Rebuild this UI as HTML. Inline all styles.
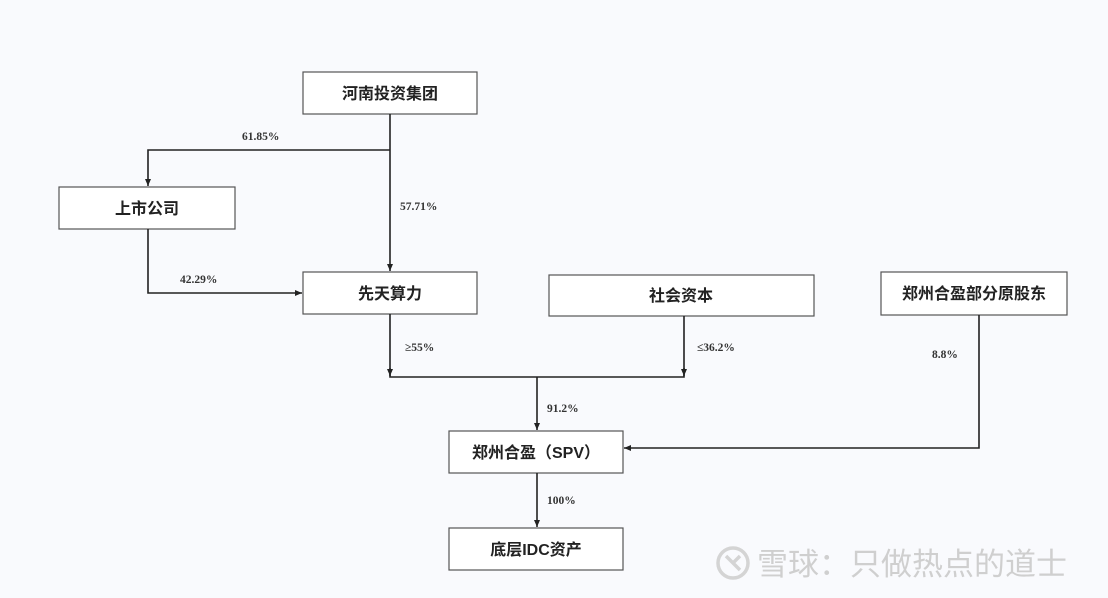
<!DOCTYPE html>
<html><head><meta charset="utf-8"><style>
body{margin:0;width:1108px;height:598px;background:#f9fafd;overflow:hidden;font-family:"Liberation Sans","Noto Sans CJK SC",sans-serif;}
svg{position:absolute;left:0;top:0}
.t{font-family:"Liberation Sans","Noto Sans CJK SC",sans-serif;font-weight:bold;font-size:16px;fill:#222}
.p{font-family:"Liberation Serif",serif;font-weight:bold;font-size:11.5px;fill:#333}
</style></head><body>
<svg width="1108" height="598">
<defs><marker id="a" markerWidth="8" markerHeight="8" refX="7" refY="4" orient="auto" markerUnits="userSpaceOnUse"><path d="M0,1 L7,4 L0,7z" fill="#222"/></marker></defs>
<g fill="#fff" stroke="#555" stroke-width="1.2">
<rect x="303" y="72" width="174" height="42"/>
<rect x="59" y="187" width="176" height="42"/>
<rect x="303" y="272" width="174" height="42"/>
<rect x="549" y="275" width="265" height="41"/>
<rect x="881" y="272" width="186" height="43"/>
<rect x="449" y="431" width="174" height="42"/>
<rect x="449" y="528" width="174" height="42"/>
</g>
<g stroke="#222" stroke-width="1.6" fill="none">
<path d="M390 114 V271" marker-end="url(#a)"/>
<path d="M390 150 H148 V186" marker-end="url(#a)"/>
<path d="M148 229 V293 H302" marker-end="url(#a)"/>
<path d="M390 314 V377 H684 V316"/>
<path d="M390 368 L390 376" marker-end="url(#a)"/>
<path d="M684 368 L684 376" marker-end="url(#a)"/>
<path d="M537 377 V430" marker-end="url(#a)"/>
<path d="M979 315 V448 H624" marker-end="url(#a)"/>
<path d="M537 473 V527" marker-end="url(#a)"/>
</g>
<g class="t" text-anchor="middle">
<text x="390" y="99">河南投资集团</text>
<text x="147" y="214">上市公司</text>
<text x="390" y="299">先天算力</text>
<text x="681" y="301">社会资本</text>
<text x="974" y="299">郑州合盈部分原股东</text>
<text x="536" y="458">郑州合盈（SPV）</text>
<text x="536" y="555">底层IDC资产</text>
</g>
<g class="p">
<text x="242" y="140">61.85%</text>
<text x="400" y="210">57.71%</text>
<text x="180" y="283">42.29%</text>
<text x="405" y="351">≥55%</text>
<text x="697" y="351">≤36.2%</text>
<text x="547" y="412">91.2%</text>
<text x="932" y="358">8.8%</text>
<text x="547" y="504">100%</text>
</g>
<circle cx="733" cy="563" r="15" fill="none" stroke="#d4d4d4" stroke-width="3.5"/>
<path d="M726 556 L740 570 M740 556 L733 563" stroke="#d4d4d4" stroke-width="3.5"/>
<text x="757" y="575" font-size="31" fill="#cfcfcf" font-family="Liberation Sans,Noto Sans CJK SC,sans-serif">雪球：只做热点的道士</text>
</svg>
</body></html>
